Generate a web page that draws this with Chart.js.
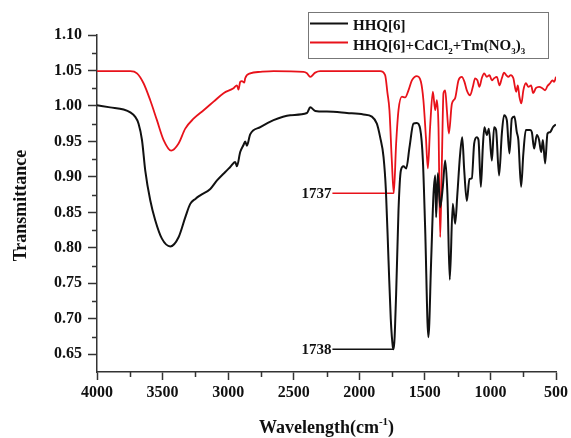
<!DOCTYPE html>
<html>
<head>
<meta charset="utf-8">
<script src="https://cdn.jsdelivr.net/npm/chart.js@4.4.0/dist/chart.umd.min.js"></script>
<style>
  html, body { margin: 0; padding: 0; background: #fff; }
  #wrap { width: 571px; height: 438px; }
</style>
</head>
<body>
<div id="wrap"><canvas id="c" width="571" height="438"></canvas></div>
<script>
// ---- Data ----
const blackWn = [4000,3900,3797,3746,3710,3683,3657,3632,3594,3556,3505,3441,3378,3327,3289,3250,3213,3136,3085,3022,2984,2946,2933,2908,2883,2870,2857,2832,2755,2654,2527,2399,2374,2336,2247,2094,1968,1904,1866,1841,1815,1797,1777,1760,1744,1738,1719,1701,1683,1663,1642,1617,1587,1561,1536,1515,1498,1473,1452,1434,1421,1414,1401,1383,1363,1345,1328,1310,1287,1269,1252,1232,1215,1200,1180,1160,1142,1124,1104,1091,1073,1058,1046,1027,1012,989,972,957,934,913,896,875,855,837,817,799,787,766,749,730,697,684,667,646,629,613,600,583,565,545,524,501];
const blackT  = [1.001,0.998,0.995,0.991,0.985,0.975,0.952,0.909,0.867,0.839,0.813,0.802,0.815,0.843,0.862,0.869,0.874,0.883,0.895,0.907,0.914,0.921,0.915,0.935,0.945,0.950,0.944,0.960,0.970,0.980,0.987,0.990,0.998,0.993,0.992,0.990,0.988,0.985,0.975,0.956,0.928,0.881,0.782,0.700,0.660,0.657,0.735,0.853,0.909,0.915,0.912,0.942,0.975,0.976,0.968,0.923,0.829,0.674,0.782,0.876,0.902,0.843,0.905,0.857,0.886,0.923,0.876,0.755,0.862,0.834,0.876,0.930,0.956,0.910,0.866,0.897,0.898,0.947,0.956,0.952,0.886,0.942,0.970,0.959,0.968,0.923,0.970,0.966,0.902,0.961,0.987,0.980,0.933,0.982,0.985,0.963,0.952,0.886,0.933,0.966,0.966,0.963,0.940,0.959,0.952,0.935,0.952,0.919,0.961,0.963,0.970,0.974];

const redWn = [4000,3746,3695,3645,3594,3543,3492,3434,3378,3327,3264,3187,3111,3035,2959,2933,2921,2908,2895,2877,2870,2832,2755,2654,2425,2399,2374,2336,2298,1917,1841,1803,1785,1770,1752,1737,1719,1701,1675,1650,1625,1599,1561,1530,1511,1492,1477,1460,1439,1421,1408,1396,1383,1370,1358,1345,1332,1317,1294,1269,1244,1218,1198,1180,1155,1134,1117,1099,1084,1066,1048,1027,1007,989,972,951,931,913,896,880,863,845,825,804,791,779,764,749,730,710,690,674,654,629,604,583,565,545,527,514,500];
const redT  = [1.049,1.049,1.046,1.032,1.008,0.980,0.952,0.937,0.947,0.968,0.982,0.994,1.006,1.018,1.025,1.029,1.023,1.034,1.035,1.033,1.039,1.046,1.048,1.049,1.048,1.046,1.041,1.047,1.049,1.049,1.049,1.0435,1.018,0.994,0.923,0.877,0.947,0.994,1.013,1.012,1.022,1.036,1.042,1.034,1.008,0.956,0.912,0.970,1.020,0.994,1.008,0.970,0.815,0.923,1.018,1.022,0.994,0.961,1.003,1.011,1.036,1.041,1.034,1.022,1.015,1.027,1.039,1.036,1.027,1.039,1.046,1.041,1.0435,1.036,1.039,1.041,1.029,1.039,1.047,1.0435,1.041,1.0435,1.039,1.020,1.029,1.013,1.0035,1.022,1.032,1.027,1.029,1.018,1.025,1.027,1.025,1.022,1.028,1.032,1.036,1.034,1.041];

// Peak annotations: [label, peak wavenumber, level, leader start wavenumber]
const annotLabels = ['1737', '1738'];
const annotPeakWn = [1737, 1738];
const annotLevel  = [0.877, 0.657];
const annotStartWn = [2205, 2205];

const xTicks = [4000, 3500, 3000, 2500, 2000, 1500, 1000, 500];
const xMinor = [3750, 3250, 2750, 2250, 1750, 1250, 750];
const yTicks = [0.65, 0.70, 0.75, 0.80, 0.85, 0.90, 0.95, 1.00, 1.05, 1.10];
const yMinor = [0.675, 0.725, 0.775, 0.825, 0.875, 0.925, 0.975, 1.025, 1.075];

const seriesNames = ['HHQ[6]', 'HHQ[6]+CdCl2+Tm(NO3)3'];
const RED = '#e8121a';
const BLACK = '#111111';
const FONT = "'Liberation Serif', 'Times New Roman', serif";

const toPts = (xs, ys) => xs.map((x, i) => ({x: x, y: ys[i]}));

const datasets = [
  { label: seriesNames[0], data: toPts(blackWn, blackT), borderColor: BLACK, borderWidth: 2, pointRadius: 0, cubicInterpolationMode: 'monotone', fill: false },
  { label: seriesNames[1], data: toPts(redWn, redT), borderColor: RED, borderWidth: 1.8, pointRadius: 0, cubicInterpolationMode: 'monotone', fill: false },
  { label: 'a1737', data: [{x: annotStartWn[0], y: annotLevel[0]}, {x: annotPeakWn[0], y: annotLevel[0]}], borderColor: RED, borderWidth: 1.5, pointRadius: 0, tension: 0 },
  { label: 'a1738', data: [{x: annotStartWn[1], y: annotLevel[1]}, {x: annotPeakWn[1], y: annotLevel[1]}], borderColor: BLACK, borderWidth: 1.5, pointRadius: 0, tension: 0 }
];

function drawRich(ctx, parts, x, y, size) {
  // parts: [text, mode] mode: 'n' normal, 'sub', 'sup'
  let cx = x;
  for (const [t, m] of parts) {
    if (m === 'n') {
      ctx.font = 'bold ' + size + 'px ' + FONT;
      ctx.fillText(t, cx, y);
    } else {
      const s = Math.round(size * 0.62);
      ctx.font = 'bold ' + s + 'px ' + FONT;
      ctx.fillText(t, cx, m === 'sub' ? y + size * 0.28 : y - size * 0.42);
    }
    cx += ctx.measureText(t).width;
  }
  return cx - x;
}
function measureRich(ctx, parts, size) {
  let w = 0;
  for (const [t, m] of parts) {
    ctx.font = 'bold ' + (m === 'n' ? size : Math.round(size * 0.62)) + 'px ' + FONT;
    w += ctx.measureText(t).width;
  }
  return w;
}

const decor = {
  id: 'decor',
  afterDraw(chart) {
    const ctx = chart.ctx;
    const xs = chart.scales.x, ys = chart.scales.y;
    const area = chart.chartArea;
    ctx.save();
    // minor ticks
    ctx.strokeStyle = '#333';
    ctx.lineWidth = 1.5;
    ctx.beginPath();
    for (const v of yMinor) {
      const py = Math.round(ys.getPixelForValue(v)) + 0.5;
      ctx.moveTo(area.left - 5, py); ctx.lineTo(area.left, py);
    }
    for (const v of xMinor) {
      const px = Math.round(xs.getPixelForValue(v)) + 0.5;
      ctx.moveTo(px, area.bottom); ctx.lineTo(px, area.bottom + 5);
    }
    ctx.stroke();

    // annotation labels
    ctx.fillStyle = '#111';
    ctx.font = 'bold 15px ' + FONT;
    ctx.textAlign = 'right';
    ctx.textBaseline = 'middle';
    for (let i = 0; i < annotLabels.length; i++) {
      ctx.fillText(annotLabels[i], xs.getPixelForValue(annotStartWn[i]) - 1, ys.getPixelForValue(annotLevel[i]) + 1);
    }

    // axis titles
    ctx.textAlign = 'left';
    ctx.textBaseline = 'alphabetic';
    ctx.save();
    ctx.translate(26, (area.top + area.bottom) / 2 + 2);
    ctx.rotate(-Math.PI / 2);
    ctx.font = 'bold 18px ' + FONT;
    ctx.textAlign = 'center';
    ctx.fillText('Transmittance', 0, 0);
    ctx.restore();

    const xt = [['Wavelength(cm', 'n'], ['-1', 'sup'], [')', 'n']];
    const xw = measureRich(ctx, xt, 18);
    drawRich(ctx, xt, (area.left + area.right) / 2 - xw / 2, 433, 18);

    // legend
    ctx.strokeStyle = '#777';
    ctx.lineWidth = 1;
    ctx.strokeRect(308.5, 12.5, 240, 46);
    ctx.lineWidth = 2;
    ctx.strokeStyle = BLACK;
    ctx.beginPath(); ctx.moveTo(310, 23.5); ctx.lineTo(348, 23.5); ctx.stroke();
    ctx.strokeStyle = RED;
    ctx.beginPath(); ctx.moveTo(310, 42.5); ctx.lineTo(348, 42.5); ctx.stroke();
    ctx.fillStyle = '#111';
    drawRich(ctx, [['HHQ[6]', 'n']], 353, 30, 15);
    drawRich(ctx, [['HHQ[6]+CdCl', 'n'], ['2', 'sub'], ['+Tm(NO', 'n'], ['3', 'sub'], [')', 'n'], ['3', 'sub']], 353, 49.5, 15);
    ctx.restore();
  }
};

new Chart(document.getElementById('c'), {
  type: 'line',
  data: { datasets: datasets },
  plugins: [decor],
  options: {
    responsive: false,
    animation: false,
    layout: { padding: { top: 35, right: 15, left: 0, bottom: 0 } },
    plugins: { legend: { display: false }, tooltip: { enabled: false } },
    scales: {
      x: {
        type: 'linear',
        reverse: true,
        min: 500, max: 4000,
        afterFit: s => { s.height = 66; },
        afterBuildTicks: s => { s.ticks = xTicks.map(v => ({value: v})); },
        border: { display: true, color: '#333', width: 1.5 },
        grid: { drawOnChartArea: false, drawTicks: true, tickLength: 8, tickColor: '#333', tickWidth: 1.5 },
        ticks: { color: '#111', font: { family: FONT, size: 16, weight: 'bold' }, padding: 3, maxRotation: 0, autoSkip: false,
                 callback: v => String(v) }
      },
      y: {
        type: 'linear',
        min: 0.625, max: 1.10,
        afterFit: s => { s.width = 97; },
        afterBuildTicks: s => { s.ticks = yTicks.map(v => ({value: v})); },
        border: { display: true, color: '#333', width: 1.5 },
        grid: { drawOnChartArea: false, drawTicks: true, tickLength: 9, tickColor: '#333', tickWidth: 1.5 },
        ticks: { color: '#111', font: { family: FONT, size: 16, weight: 'bold' }, padding: 6, autoSkip: false,
                 callback: v => Number(v).toFixed(2) }
      }
    }
  }
});
</script>
</body>
</html>
